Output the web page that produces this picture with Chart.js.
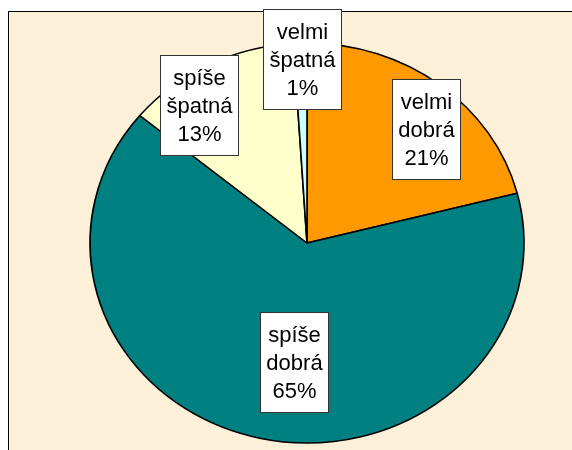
<!DOCTYPE html>
<html>
<head>
<meta charset="utf-8">
<script src="https://cdn.jsdelivr.net/npm/chart.js@4.4.1/dist/chart.umd.min.js"></script>
<style>
  html, body { margin: 0; padding: 0; background: #fff; overflow: hidden; }
  #frame {
    position: absolute; left: 8px; top: 11px; width: 620px; height: 520px;
    border-left: 1px solid #000; border-top: 1px solid #000;
    background: #fcf0d9;
  }
  #wrap { position: absolute; left: 0; top: 0; width: 572px; height: 450px; }
</style>
</head>
<body>
<div id="frame"></div>
<div id="wrap"><canvas id="pie"></canvas></div>
<script>
// Pie of answers, slices clockwise from 12 o'clock
const categories = ['velmi dobrá', 'spíše dobrá', 'spíše špatná', 'velmi špatná'];
const shares = [21, 65, 13, 1];
const sliceColors = ['#FF9900', '#008080', '#FFFFCC', '#CCFFFF'];

// The original pie is a bit wider than tall
const STRETCH_X = 1.085;

const stretchPlugin = {
  id: 'stretch',
  beforeDatasetsDraw(chart) {
    const arc = chart.getDatasetMeta(0).data[0];
    const ctx = chart.ctx;
    ctx.save();
    ctx.translate(arc.x, 0);
    ctx.scale(STRETCH_X, 1);
    ctx.translate(-arc.x, 0);
  },
  afterDatasetsDraw(chart) {
    chart.ctx.restore();
  }
};

// White boxed data labels (name on two lines + percent)
const boxLabels = {
  id: 'boxLabels',
  afterDraw(chart, args, opts) {
    const ctx = chart.ctx;
    const meta = chart.getDatasetMeta(0);
    const total = shares.reduce((a, b) => a + b, 0);
    ctx.save();
    ctx.font = opts.font;
    ctx.textAlign = 'center';
    ctx.textBaseline = 'middle';
    meta.data.forEach((arc, i) => {
      const mid = (arc.startAngle + arc.endAngle) / 2 + opts.turn[i] * Math.PI / 180;
      const r = arc.outerRadius * opts.radius[i];
      const cx = arc.x + Math.cos(mid) * r * STRETCH_X;
      const cy = arc.y + Math.sin(mid) * r;
      const lines = categories[i].split(' ').concat(Math.round(shares[i] / total * 100) + '%');
      const w = Math.round(Math.max(...lines.map(t => ctx.measureText(t).width)) + 2 * opts.padX);
      const h = Math.round(lines.length * opts.lineHeight + 2 * opts.padY);
      const left = Math.round(cx - w / 2) + 0.5;
      const top = Math.round(cy - h / 2) + 0.5;
      ctx.fillStyle = '#fff';
      ctx.fillRect(left, top, w, h);
      ctx.strokeStyle = '#333';
      ctx.lineWidth = 1;
      ctx.strokeRect(left, top, w, h);
      ctx.fillStyle = '#000';
      lines.forEach((t, k) => {
        ctx.fillText(t, left + w / 2, top + opts.padY + opts.lineHeight * (k + 0.5) + 1);
      });
    });
    ctx.restore();
  }
};

const ctx = document.getElementById('pie').getContext('2d');
new Chart(ctx, {
  type: 'pie',
  data: {
    labels: categories,
    datasets: [{
      data: shares,
      backgroundColor: sliceColors,
      borderColor: '#000',
      borderWidth: 1.5,
      radius: 200,
      clip: false
    }]
  },
  options: {
    responsive: true,
    maintainAspectRatio: false,
    animation: false,
    layout: {
      padding: { left: 42, right: 0, top: 36, bottom: 0 }
    },
    plugins: {
      legend: { display: false },
      tooltip: { enabled: false },
      boxLabels: {
        font: '22px "Liberation Sans", Arial, sans-serif',
        lineHeight: 28,
        padX: 6,
        padY: 8,
        radius: [0.79, 0.60, 0.85, 0.92],
        turn: [6, -7, -9, 0.5]
      }
    }
  },
  plugins: [stretchPlugin, boxLabels]
});
</script>
</body>
</html>
